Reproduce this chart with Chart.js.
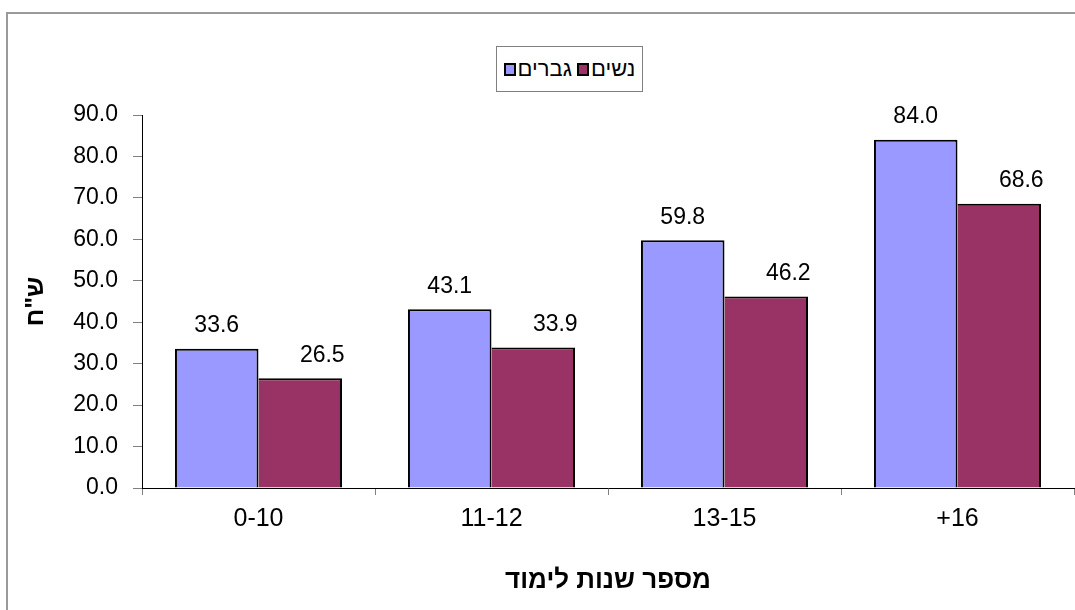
<!DOCTYPE html>
<html>
<head>
<meta charset="utf-8">
<script src="https://cdn.jsdelivr.net/npm/chart.js@4"></script>
<style>
  html, body { margin:0; padding:0; background:#fff; }
  #wrap { position:relative; width:1075px; height:610px; overflow:hidden; }
  #frame { position:absolute; left:6px; top:12px; right:-10px; bottom:-10px; border-top:2px solid #9a9a9a; border-left:2px solid #9a9a9a; pointer-events:none; }
  canvas { position:absolute; left:0; top:0; }
  #legend { position:absolute; left:496px; top:46px; width:145px; height:44px; border:1px solid #808080; background:#fff;
            display:flex; align-items:center; justify-content:center; direction:ltr;
            font-family:"Liberation Sans", Arial, sans-serif; font-size:22px; color:#000; }
  #legend .box { display:inline-block; width:8px; height:9px; border:2px solid #000; margin-right:2px; }
  #legend .txt { margin-right:5px; }
  #legend .txt:last-child { margin-right:0; }
</style>
</head>
<body>
<div id="wrap">
  <canvas id="c" width="1075" height="610"></canvas>
  <div id="frame"></div>
  <div id="legend"></div>
</div>
<script>
const categories = ["0-10", "11-12", "13-15", "+16"];
const seriesNames = ["גברים", "נשים"];
const menValues = [33.6, 43.1, 59.8, 84.0];
const womenValues = [26.5, 33.9, 46.2, 68.6];
const seriesColors = ["#9999FF", "#993366"];
const yTicks = [0, 10, 20, 30, 40, 50, 60, 70, 80, 90];
const xTitle = "מספר שנות לימוד";
const yTitle = 'ש"ח';

const FONT = '"Liberation Sans", Arial, sans-serif';

// HTML legend
const legendEl = document.getElementById('legend');
seriesNames.forEach((name, i) => {
  const b = document.createElement('span');
  b.className = 'box';
  b.style.background = seriesColors[i];
  const t = document.createElement('span');
  t.className = 'txt';
  t.textContent = name;
  legendEl.appendChild(b);
  legendEl.appendChild(t);
});

const valueLabels = {
  id: 'valueLabels',
  afterDatasetsDraw(chart) {
    const ctx = chart.ctx;
    ctx.save();
    ctx.font = '23px ' + FONT;
    ctx.fillStyle = '#000';
    ctx.textAlign = 'center';
    ctx.textBaseline = 'alphabetic';
    chart.data.datasets.forEach((ds, di) => {
      const meta = chart.getDatasetMeta(di);
      const dx = di === 1 ? 22 : 0;
      meta.data.forEach((el, i) => {
        ctx.fillText(ds.data[i].toFixed(1), el.x + dx, el.y - 16.5);
      });
    });
    ctx.restore();
  }
};

new Chart(document.getElementById('c'), {
  type: 'bar',
  data: {
    labels: categories,
    datasets: [
      {
        label: seriesNames[0],
        data: menValues,
        backgroundColor: seriesColors[0],
        borderColor: '#000',
        borderWidth: {left: 2, right: 2, top: 2, bottom: 0},
        borderSkipped: false,
        categoryPercentage: 0.717,
        barPercentage: 1.0
      },
      {
        label: seriesNames[1],
        data: womenValues,
        backgroundColor: seriesColors[1],
        borderColor: '#000',
        borderWidth: {left: 0, right: 2, top: 2, bottom: 0},
        borderSkipped: false,
        categoryPercentage: 0.717,
        barPercentage: 1.0
      }
    ]
  },
  options: {
    responsive: false,
    devicePixelRatio: 1,
    animation: false,
    layout: { padding: { top: 115, left: 0, right: 1, bottom: 0 } },
    plugins: {
      legend: { display: false },
      tooltip: { enabled: false }
    },
    scales: {
      x: {
        offset: true,
        grid: { offset: true, drawOnChartArea: false, drawTicks: true, tickLength: 7, tickColor: '#808080' },
        border: { color: '#000', width: 1 },
        ticks: { color: '#000', font: { family: FONT, size: 25 }, padding: 9, maxRotation: 0 },
        title: { display: true, text: xTitle, color: '#000', font: { family: FONT, size: 26, weight: 'bold' }, padding: { top: 0, bottom: 14 } },
        afterFit(scale) { scale.height = 122; }
      },
      y: {
        min: 0,
        max: 90,
        afterBuildTicks(scale) { scale.ticks = yTicks.map(v => ({ value: v })); },
        grid: { drawOnChartArea: false, drawTicks: true, tickLength: 9, tickColor: '#808080' },
        border: { color: '#000', width: 1 },
        ticks: { color: '#000', font: { family: FONT, size: 23 }, padding: 15, callback: v => Number(v).toFixed(1) },
        title: { display: true, text: yTitle, color: '#000', font: { family: FONT, size: 25, weight: 'bold' }, padding: { top: 21, bottom: 0 } },
        afterFit(scale) { scale.width = 142; }
      }
    }
  },
  plugins: [valueLabels]
});
</script>
</body>
</html>
